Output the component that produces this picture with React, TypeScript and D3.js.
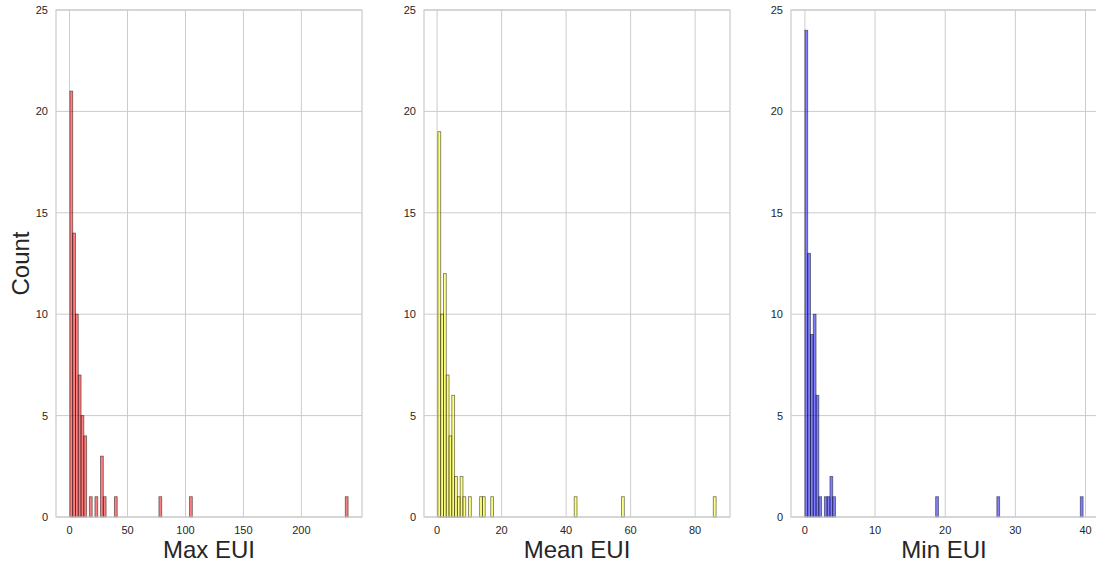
import React, { useEffect, useRef } from 'react';
import * as d3 from 'd3';

// histogram bins: index of the bin and its count (100 bins per panel)
const maxEuiBins = [0, 1, 2, 3, 4, 5, 7, 9, 11, 12, 16, 32, 43, 99];
const maxEuiCounts = [21, 14, 10, 7, 5, 4, 1, 1, 3, 1, 1, 1, 1, 1];

const meanEuiBins = [0, 1, 2, 3, 4, 5, 6, 7, 8, 9, 11, 15, 16, 19, 49, 66, 99];
const meanEuiCounts = [19, 10, 12, 7, 4, 6, 2, 1, 2, 1, 1, 1, 1, 1, 1, 1, 1];

const minEuiBins = [0, 1, 2, 3, 4, 5, 7, 8, 9, 10, 47, 69, 99];
const minEuiCounts = [24, 13, 9, 10, 6, 1, 1, 1, 2, 1, 1, 1, 1];

// bin edges [first, last] for each panel
const maxEuiRange = [0.3, 240.3];
const meanEuiRange = [0.25, 86.5];
const minEuiRange = [0.0, 39.65];
const binCount = 100;

const maxEuiTicks = [0, 50, 100, 150, 200];
const meanEuiTicks = [0, 20, 40, 60, 80];
const minEuiTicks = [0, 10, 20, 30, 40];
const countTicks = [0, 5, 10, 15, 20, 25];

const panels = [
  { label: 'Max EUI', bins: maxEuiBins, counts: maxEuiCounts, range: maxEuiRange, ticks: maxEuiTicks, color: 'red', left: 56 },
  { label: 'Mean EUI', bins: meanEuiBins, counts: meanEuiCounts, range: meanEuiRange, ticks: meanEuiTicks, color: 'yellow', left: 424 },
  { label: 'Min EUI', bins: minEuiBins, counts: minEuiCounts, range: minEuiRange, ticks: minEuiTicks, color: 'blue', left: 791 },
];

const W = 1096;
const H = 565;
const FONT = '"Liberation Sans", Arial, sans-serif';

const App: React.FC = () => {
  const ref = useRef<SVGSVGElement>(null);

  useEffect(() => {
    if (!ref.current) return;
    const svg = d3.select(ref.current);
    svg.selectAll('*').remove();

    const top = 10;
    const height = 507;
    const width = 306;

    const y = d3.scaleLinear().domain([0, 25]).range([top + height, top]);

    panels.forEach((p, pi) => {
      const [lo, hi] = p.range;
      const pad = (hi - lo) * 0.05;
      const x = d3.scaleLinear().domain([lo - pad, hi + pad]).range([p.left, p.left + width]);
      const bw = (hi - lo) / binCount;

      const g = svg.append('g');

      // grid
      g.selectAll('line.vg')
        .data(p.ticks)
        .join('line')
        .attr('x1', d => x(d)).attr('x2', d => x(d))
        .attr('y1', top).attr('y2', top + height)
        .attr('stroke', '#cccccc').attr('stroke-width', 1);
      g.selectAll('line.hg')
        .data(countTicks)
        .join('line')
        .attr('x1', p.left).attr('x2', p.left + width)
        .attr('y1', d => y(d)).attr('y2', d => y(d))
        .attr('stroke', '#cccccc').attr('stroke-width', 1);

      // bars
      g.selectAll('rect.bar')
        .data(p.bins.map((b, i) => ({ b, c: p.counts[i] })))
        .join('rect')
        .attr('x', d => x(lo + d.b * bw))
        .attr('width', d => x(lo + (d.b + 1) * bw) - x(lo + d.b * bw))
        .attr('y', d => y(d.c))
        .attr('height', d => y(0) - y(d.c))
        .attr('fill', p.color).attr('fill-opacity', 0.5)
        .attr('stroke', 'black').attr('stroke-opacity', 0.5).attr('stroke-width', 0.9);

      // spines
      g.append('rect')
        .attr('x', p.left).attr('y', top)
        .attr('width', width).attr('height', height)
        .attr('fill', 'none').attr('stroke', '#cccccc').attr('stroke-width', 1.25);

      // tick labels
      g.selectAll('text.xt')
        .data(p.ticks)
        .join('text')
        .attr('x', d => x(d)).attr('y', top + height + 17)
        .attr('text-anchor', 'middle')
        .style('font-family', FONT).style('font-size', '11px').attr('fill', '#262626')
        .text(d => d);
      g.selectAll('text.yt')
        .data(countTicks)
        .join('text')
        .attr('x', p.left - 8).attr('y', d => y(d) + 4)
        .attr('text-anchor', 'end')
        .style('font-family', FONT).style('font-size', '11px').attr('fill', '#262626')
        .text(d => d);

      g.append('text')
        .attr('x', p.left + width / 2).attr('y', top + height + 41)
        .attr('text-anchor', 'middle')
        .style('font-family', FONT).style('font-size', '24px').attr('fill', '#262626')
        .text(p.label);

      if (pi === 0) {
        g.append('text')
          .attr('transform', `translate(29,${top + height / 2}) rotate(-90)`)
          .attr('text-anchor', 'middle')
          .style('font-family', FONT).style('font-size', '24px').attr('fill', '#262626')
          .text('Count');
      }
    });
  }, []);

  return (
    <svg ref={ref} width={W} height={H} style={{ position: 'absolute', left: 0, top: 0, background: 'white' }}></svg>
  );
};

export default App;
